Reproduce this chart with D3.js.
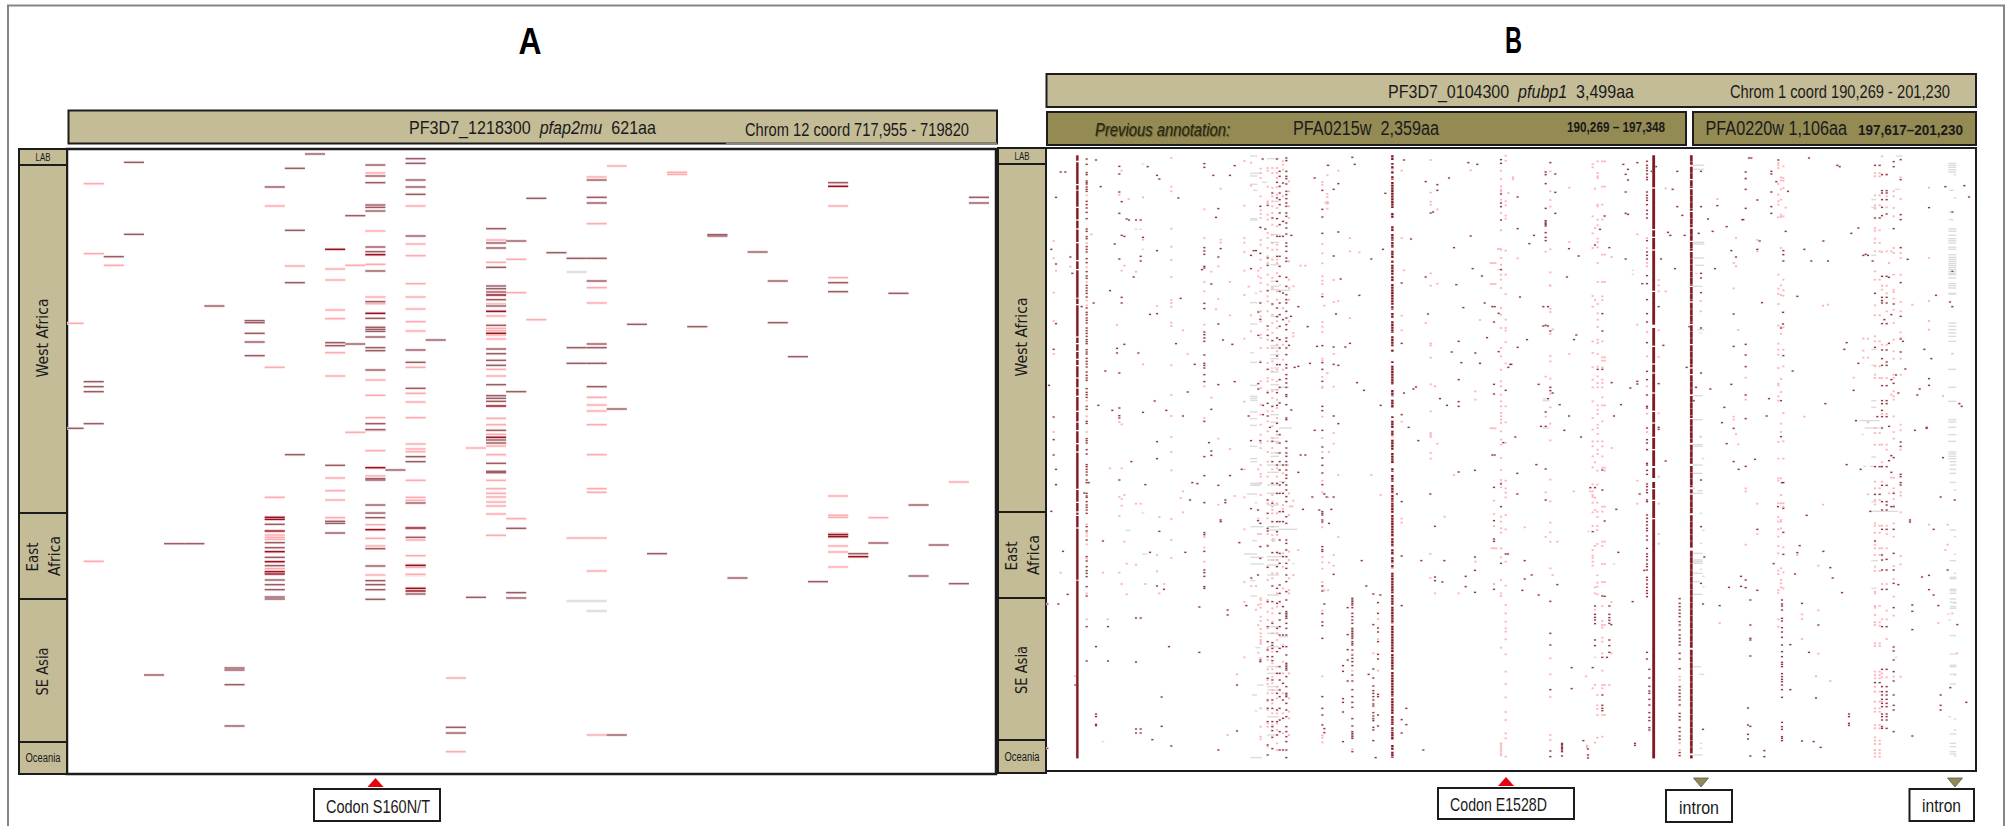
<!DOCTYPE html>
<html><head><meta charset="utf-8">
<script src="https://cdn.jsdelivr.net/npm/d3@7"></script>
<style>html,body{margin:0;background:#fff}svg{display:block}text{font-family:"Liberation Sans Narrow","Liberation Sans",sans-serif;fill:#1a1a1a;white-space:pre}</style>
</head><body><svg id="c" width="2006" height="826"></svg>
<script>
// ---- Panel A: each row is [codon column, sample rows...]
const aDarkTop=[[1,1145,1160,1175],[2,770],[3,487,703],[7,918],[9,962,968,1000,1026,1067],[10,561],[11,505,691,848],[12,462],[13,1028,1037],[14,647,1032],[15,495,528,548,615,622,633,741,755,813,905,955,982,988,994,1011,1043,1052,1110],[17,476,490,540,561,583,708,1050,1087,1165],[18,1020],[21,686,729,744,802,858,866,876,899,918,976,1047,1061,1081,1096,1154,1187,1195,1204],[22,723,1175],[23,595],[24,758],[25,775,1043,1090],[26,775,540,592,609,843,1032,1043,1090,1160],[27,1227],[28,973],[31,980],[32,704,708],[34,756],[35,843,968],[36,1070],[38,548,848,875],[41,880],[45,592,609]];
const aStrongTop=[[13,748],[15,764,940],[21,885,934,1000,1218],[38,559]];
const aPaleTop=[[0,970],[1,551,761],[2,796],[10,618,1102],[11,798],[13,807,840,930,956,1058,1128],[14,796],[15,519,693,793,891,911,1140,1186,1253],[17,618,732,767,851,891,927,965,993,1102,1180,1206,1253],[21,720,787,912,948,985,992,1005,1017,1108,1128,1255],[22,778,878],[23,959],[26,531,671,863,909,1192,1215,1233],[27,498],[30,517,523],[38,618,833]];
const aDarkBottom=[[0,25],[1,11],[4,765],[5,371],[6,371],[8,744,750,794,918],[10,313,368,383,412,437,458,480,494,509,531,537],[11,104],[13,136,304,310,339],[15,11,29,180,176,255,279,293,386,438,482,494,509,538],[16,150],[17,110,125,249,324,352,437,522],[19,922,939],[20,532],[21,31,60,69,130,154,158],[22,325,518,534],[27,945],[29,401],[33,474],[37,485],[38,341],[39,401],[40,369],[42,255,468],[43,375],[44,491]];
const aStrongBottom=[[10,292,298,333,395,425,455,462],[15,143,329],[17,324,436,505,513],[21,52],[38,344,350],[39,410]];
const aPaleBottom=[[1,424],[10,232,345,352,358,446],[13,174,212,240,293],[14,37],[15,31,92,168,314,355,378,465],[17,72,87,95,181,232,241,360,407,442,463],[19,774,995],[20,84],[21,14,43,78,104,181,206,220,231,246,258,282,346],[22,296],[25,354],[26,14,104,206,217,354,453,945],[38,228,286,292,378,396,441],[40,293],[44,186]];
const aGrayTop=[[25,816]], aGrayBottom=[[25,543],[26,543,573],[17,466]];

// ---- Panel B solid columns: [start,end] sample rows
const b91=[[22,38],[43,108],[112,125],[128,176],[180,214],[218,241],[245,282],[286,336],[340,363],[367,449],[452,468],[472,565],[569,585],[589,608],[612,632],[636,651],[655,688],[692,718],[722,743],[747,788],[792,820],[824,846],[850,885],[889,910],[914,1022],[1026,1061],[1065,1090],[1094,1100],[1104,1138],[1142,1295],[1298,1831]];
const b340=[[22,36],[45,50],[55,64],[70,78],[85,95],[102,180],[195,210],[235,250],[258,278],[282,300],[308,330],[338,345],[350,380],[385,400],[408,470],[475,485],[495,510],[520,555],[565,595],[605,612],[640,645],[653,710],[726,745],[755,780],[805,810],[818,840],[848,865],[875,905],[915,946],[961,971],[981,1001],[1011,1036],[1041,1061],[1064,1096],[1101,1166],[1171,1196],[1204,1221],[1228,1246],[1251,1261],[1274,1336],[1341,1370],[1376,1426],[1433,1514],[1518,1566],[1572,1646],[1651,1698],[1704,1731],[1738,1748],[1751,1776],[1791,1806],[1811,1829]];
const b428=[[22,118],[122,243],[247,266],[270,304],[308,428],[432,530],[540,593],[597,646],[650,673],[677,733],[737,788],[792,823],[827,866],[870,903],[907,954],[960,990],[1002,1020],[1024,1055],[1059,1110],[1114,1831]];
const b541=[[22,50],[56,93],[97,120],[124,188],[192,238],[242,278],[282,308],[312,413],[417,460],[464,528],[532,588],[592,658],[662,678],[682,740],[744,810],[814,884],[890,948],[954,1018],[1024,1036],[1040,1096],[1102,1200],[1208,1500],[1505,1817],[1822,1831]];

// ---- Panel B scattered calls, per picture tile: [column, rows...]
const t1d=[[119,33,49,74,80,99,104,108,117,124,130,160,170,180,193,212,243,250,266,272,296,304,312,332,344,371,384,391,412,420,428,436,447,480,493,500,510,517,525,540,548,556,565,575,581,587,605,612,618,631,640,648,657,672,682,690,697,722,733,740,748,775,784,820,826,872,878,885,905,918],[27,148,348,527],[20,604,807,875,921],[41,72],[55,72],[13,304],[70,327],[76,376],[6,712],[147,36],[161,116],[203,288],[189,428],[140,465],[104,476],[232,589,265],[175,669],[154,772],[196,787],[217,55,78,132,196,333,675,780,803,810],[224,161,262,448,465],[239,213],[246,216],[267,216],[281,216],[288,268],[281,325,339],[260,387],[302,56],[330,82,308,497,881,932],[337,93],[394,150],[309,499],[210,601,615],[274,615],[323,759],[288,793],[358,787],[408,804],[387,587],[401,451],[443,649],[422,732],[472,47,58,299,309,319,355,360,466,482,552,560,570,580,621,646,652,660,680,701],[465,365],[499,82],[549,82],[563,53,701],[514,182,327,528,710],[507,208],[521,302],[493,408,784,909,922],[528,576],[556,589],[472,820,926],[486,884],[647,33],[690,33,103,150,212,265,325,400,480,506,570,624,650,734,772,826,850],[676,135,210,468,578,775,880],[662,172,330,352,428,534,562,664,734,766,804],[640,175,238,316,465,514,643,878],[655,243],[612,322,362,878],[620,308],[627,308],[634,492,562,707,723],[648,772,800],[605,804],[669,838]];
const t1p=[[119,142,285,358,402,458,472,758,805,852],[20,279,331,434,519,618,852],[70,356],[27,368],[133,259],[224,68,368],[217,140,822],[224,829],[245,153],[288,148,275,649],[232,353],[267,371],[210,531],[330,474],[373,30,116,130,242,296,336,387,456,465,476,524,534,652,741,804,867,912],[408,547],[422,618],[521,122,275,284],[472,184,270,402,430,530,570,715,810],[514,355,453,872],[493,371,749],[549,402,502,903],[507,484],[592,39,173,270,284,312,368,441,572,761],[612,44,113,502,550],[605,416],[634,368,385],[641,62,75,90,145,174,187,198,210,240,276,290,335,360,390,405,430,490,505,520,560,570,600,640,700,720,770,800,830,860,885,900],[662,60,68,116,160,165,200,215,255,270,300,325,345,380,410,445,460,490,545,575,600,645,690,700,730,790,820,850,880,912],[676,60,75,120,145,160,175,195,230,260,285,305,335,390,420,470,500,525,555,600,640,670,695,730,750,790,835,870,900],[690,60,75,90,118,140,180,235,290,305,335,345,375,430,455,520,540,590,610,665,700,725,755,780,810,860,885,915]];
const t1g=[[609,631,24,84,109,212,216,464,528,643,712,745,751,757,792,812,832,895,932],[609,645,76],[618,632,127],[609,620,614],[660,696,32],[680,696,160],[284,292,48],[263,271,244],[277,285,244],[284,292,304],[623,631,436],[645,660,103],[670,696,260,283,350,400,415,425,505,593,600,620,632,660,672,710,725,800,823,870,880,915,925]];
const t2d=[[22,30,38,70,85,92,108,130,140,152,165,175,195,205,225,240,258,285,295,310,330,340,388,415,440,455,465,490,510,530,545,570,580,600,620,650,660,680,692,705,718,740,745,770,810,815,880,900,915,925],[2,70,85,115,135,155,170,195,230,265,325,355,385,430,465,500,535,575,600,650,695,718,765,860,885,915],[12,105,220,265,435,515],[37,262,786],[30,592],[36,505],[58,476,655],[86,536],[47,658],[93,646],[107,90,847],[114,595],[65,921],[79,921],[130,127,184,207,256,446,593,644,664,700,775,788,847,897,930],[147,52],[178,107,252,652,827],[164,124,324,597,649,804],[185,393],[241,442],[171,498],[213,586],[199,597],[234,704],[255,727],[305,772],[418,878],[389,838],[220,28],[227,49],[319,136],[277,333],[312,304],[375,36,735],[568,44],[595,49],[440,101,387],[510,90],[475,110,127],[396,273],[575,264],[525,299],[581,362],[609,384],[368,405,586,800],[532,410],[617,465],[553,479],[447,498],[645,522,709,738],[659,496,611],[624,569],[539,580,695,761,775],[518,612],[589,615],[547,644],[603,646],[411,717],[403,723],[483,752],[504,772],[666,35,46,138,165,176,216,365],[680,727],[673,884],[688,658],[694,649],[462,192],[455,195],[640,476],[647,476],[640,921],[647,921]];
const t2p=[[12,40,50,65,145,220,480,590,635,665],[30,100,130,175,210,340,395,420,455,520],[43,415,555,565],[65,353],[79,353],[130,102,110,288,316,346,385,398,408,438,522,536,552,632,638,687,716,720,806,870,912],[145,82,138,147,162,167,182,675],[178,68],[213,270,310,510],[241,313],[164,396,462,618,716,855,887],[178,459],[136,473],[150,912],[368,68,270,503,547,821],[455,36,134,161,170,376,413,586,592,629,709,790,855,861,867,915,932],[575,67],[375,367],[475,184,407,887],[440,525],[603,516],[468,715],[589,730,755],[666,68,93,115,125,130,155,195,247,305,330,350,380,395,420,480,500,540,600,625,665,700,715,740,760,775,795,805,815,825,850,875,890,930],[680,23,38,160,172,203,212,308,380,438,515,540,548,582,646,775,823,885],[688,135],[635,345],[642,345],[649,345],[635,408],[642,408],[649,408],[635,841],[642,841],[649,841],[657,303],[664,303],[140,164],[147,164]];
const t2g=[[0,38,840],[0,30,718],[5,35,427],[0,7,410],[140,155,52],[655,670,365]];
const t3d=[[408,40,52,60,68,78,88,95,132,142,150,157,170,187,198,210,278,312,322,333,383,407,455,497,522,584,670,695,741,775,780,840,875,885,905],[118,44,549,718,728],[104,72,80,107,181,218,222,226,230,234,254,268,278,532,792,835],[20,147,242,598],[133,78,133,196],[69,262],[55,287],[174,302,804],[203,324],[168,387],[27,447],[97,476,534],[111,476,534,752],[196,561],[189,575],[48,575],[83,709],[146,770],[90,835],[160,847],[210,867],[13,867],[125,735],[1,649],[337,49],[351,64,96,199],[344,79,132,196,333],[379,44],[422,70],[435,56],[499,70,176],[485,124],[570,70,176,376,390,434,540,675],[514,202],[591,213],[563,256],[647,236],[605,250],[471,253],[478,262],[521,262],[450,333],[492,362],[661,308,709],[675,327],[612,362],[394,407],[443,476,707,838,844],[457,592],[527,658],[555,718],[598,723],[358,720],[330,770],[309,804],[302,704],[295,299],[267,244],[281,204],[252,291],[274,497,549,664],[260,664],[668,498,595,841],[535,536],[640,778],[633,824],[647,887],[379,700,708],[548,758],[694,215],[619,173]];
const t3p=[[20,331],[118,70,130,156,176,304,373,413,482,492,558,624,640,692,737,778,827,877],[175,119,282,618],[104,311,686,806],[125,544],[379,259,530],[245,48,58],[260,40,75,85,90,170,175,215,232,272,282,298,345,402,618],[252,122,240,456],[245,205,256,300,444,476,580,615,658,695,718,760,810,845,880,895,925],[274,40,116,170,215,320,402,445,456,580,628,638,658,695,705,718,748,772,820,880,895,925],[281,40,116,205,320,402,628,638,772],[260,468,496,515,537,575,585,656,685,705,718,772,785,798,830,840,858,880,905,918],[302,327,900],[408,270,300,345,355,552,625,715,797,852,905],[443,396,412,430,547,627,796],[464,121,430],[619,153],[569,459,490,866],[668,345,421,806,815],[675,270,355,858],[682,546,889],[117,412],[6,88,94]];
const t3g=[[362,369,367,379],[545,580,283,288,330],[552,580,352],[552,560,376],[545,575,415,743,815,890,895],[560,580,545],[565,572,555],[540,580,52,64],[95,115,752,758,840],[572,580,932]];
const t4d=[[18,30],[25,30],[8,72,92,124,181,589,621,656,741,812],[1,215],[43,156,304],[85,70,78,132,176,196],[106,36],[100,101],[135,130],[50,279],[57,464],[128,250],[121,308,320,339,623],[163,445],[120,493,528],[114,540,758,866],[149,669],[78,752],[71,804],[36,934],[247,767],[198,30],[283,52],[290,56],[241,279],[184,304],[205,339],[255,339],[311,584],[304,604],[346,646,240],[332,727],[325,256],[361,322],[368,319],[375,322],[389,339],[339,818],[396,52,210,436,598],[410,52,210],[417,80,128,135,155,178,203,385,448,458,465,527,606,632,652,713,758,767,787,806,840],[431,80,128,135,155,198,385,448,465,527,606,642,652,713,758,767,806],[452,41,56,242,468,706],[473,35,95,200,215,299,404,505,612,882,895],[403,806],[438,388,586,835],[445,500,695,923],[424,515],[480,580],[487,663],[459,681],[466,735],[494,334],[558,179,692,712],[579,442],[621,462],[628,476,192,370],[607,116],[664,113],[678,147],[544,604],[565,632],[530,723],[523,741],[649,767],[656,775],[516,847],[551,838,841],[452,929],[600,929],[473,573]];
const t4p=[[106,45,52,60,108,140,160,170,208,380,422,438,468,533,587,605,620,660,707,712,745,758,882,932],[114,88,97,124,155,200,207,300,412,441,538,557,693,732,827,852],[121,55,90,98,120,205,395,427,443,492,538,605,655,795,880,932],[128,179],[43,276,310],[8,90,689,755],[184,806],[240,473],[255,470],[332,689],[361,572,608,629],[375,572,629,823],[396,75,85,142,172,182,240,248,272,285,310,370,395,472,502,565,580,655,680,690,840,855,890],[410,75,85,142,172,247,285,310,395,502,580,655,690,855,890],[417,25,312,413,425,458,590,690,798,890],[431,78,145,178,310,413,436,490,590,652,690,798,890,905],[452,130,145,180,205,300,315,380,425,432,452,485,525,575,610,632,680,690,730,745,755,805,852,872],[473,88,153,315,330,380,462,490,553,570,632,680,830,847,905],[438,345],[445,310,740],[508,470],[558,119,330,459,519,545],[600,744],[628,617]];
const t4g=[[385,400,155,178,322,604,652,758,778,927],[350,410,818],[365,410,840],[355,362,860],[458,478,24],[455,470,124],[616,640,46,52,58,65,72,243,250,262,272,278,285,298,304,320,328,334,340,346,352,358,364,370,376,380,390,407,413,420,436,438,525,535,545,555,565,580,664,718,760,815,822,838,860,880,912,918,925,932],[618,632,127,215,192],[632,640,80,150]];
const t5d=[[119,14,20,28,36,45,60,68,100,108,112,125,135,142,150,160,200,213,240,290,303,320,332,340,350,380,408,500,603],[27,28,74],[13,154],[48,274],[62,403],[34,432],[1,432,865],[112,99],[125,68],[168,243],[217,60],[253,5],[295,74],[337,214],[309,277],[330,378],[351,388],[415,277],[436,68],[451,71],[472,47,128,218,224,274,330,338,349,380,385],[514,76,870],[549,47],[584,28],[535,120,128],[521,180,185],[577,248],[429,120],[612,146],[633,150,182,345],[640,190,260,295,600,605],[613,354],[183,500,603],[147,560,762,770,793,797],[267,474,606,807,819],[281,474,807,819],[366,560],[457,441,577],[542,450,465],[598,437],[344,711,799],[316,839],[373,858],[570,813,675],[85,675],[676,5,70,130,185,278,378,425,490,548,556,565,590,602,660,720,745,785,800,812,832,866],[662,120,160,205,213,258,322,425,500,545,570,590,655,720,745,785,855,885],[690,15,70,100,185,215,278,320,385,430,505,575,640,700,750,785,825]];
const t5p=[[119,193,220,228,253,296,400,478],[189,25],[182,478],[224,25,117,137,372],[373,31,177,240,294],[408,94,157],[401,114],[217,111,168,338],[232,105,245],[267,131,314],[281,131],[239,311,403],[168,338],[295,372],[337,171,400],[352,372],[330,285,334],[41,338],[84,649],[472,231,263,305],[563,108],[514,134],[592,28,112,208,366,426,592],[570,643],[542,825],[634,28,176,222,435,495,578],[641,15,42,50,70,105,222,415,420,432,443,470,483,507,520,530,540,546,552,595,745,800,830,838],[662,5,50,130,175,222,255,320,360,420,455,480,505,565,600,628,660,672,700,723,750,790,800,860],[676,28,105,125,140,150,160,200,225,240,300,340,355,445,460,485,520,575,610,628,650,670,690,700,730,760,795],[690,25,50,130,160,225,275,300,340,400,440,520,540,620,680,715,760,790,810,850,870],[613,378],[627,378,449]];
const t5g=[[610,630,5,408],[610,640,72,76],[600,630,102],[610,645,70],[623,631,128,753],[610,650,200,292,312],[236,250,211],[284,292,159],[285,300,282],[615,630,242,705],[675,685,236,240,244],[590,630,282],[610,625,362],[625,640,563],[630,650,675],[164,172,845],[610,645,893],[660,696,15,37,75,100,135,200,210,290,300,315,345,405,500,520,560,620,640,680,690,770,825]];
const t6d=[[22,5,15,30,45,55,75,90,110,125,170,190,240,250,270,290,310,325,345,365,395,420,455,460,465,470,475,490,505,525,560,585,610,615,620,625,630,650,680,700,705,710,730,750,770,800,815,830,845,870,893],[2,5,30,75,100,155,185,240,280,310,375,400,425,460,480,500,525,565,620,640,660,690,710,745,780,815,870],[12,15,68,100,155,185,290,440,525,560,670,720,775,870],[58,37],[72,148],[100,111],[121,150],[130,16,39,74,155,160,165,180,186,260,269,274,378,393,461,486,497,535,710,745,765,795],[136,102,432,806,818],[143,111],[157,148],[164,111,343],[150,190],[248,302],[262,378],[283,402,494,627,654,678,692,700,710,720,732,738,758,768,776,782,802,810,842],[304,405],[297,428,460,504,516,545,583,597,703,710,765,798],[290,893],[269,643],[206,443,524,569,600,663],[192,617,634,716,727,756,845],[220,415,420,425,430,435,443,460,470,480,490,505,510,515,520,525,530,535,545,550,555,570,585,595,605,617,645,663,689,710,727,742,776,798,815,820,825,830,835,875],[354,102],[368,125,288,437,779,819],[382,745,794],[433,870],[454,102],[427,302],[496,302],[468,199,351,362],[490,366],[560,349,380],[588,31,291,331,397],[539,36],[645,82,182,237,244,388],[666,72,140,310],[680,282],[687,282]];
const t6p=[[12,40,135,148,280,320,385,555,605,640,700,760,820],[30,100,165,275,300,355,390,400,640,715,755,775,825],[43,122,345],[33,139],[40,139],[58,270],[130,62,97,202,291,307,326,366,392,452,649,765,826,833,847],[147,112,391],[164,285,317],[150,308],[178,45,231],[136,391],[277,45],[305,105],[497,170],[525,45],[368,176,188],[454,282,354],[468,400],[539,400],[589,305],[645,122,162,198,372],[638,265],[645,265],[652,265],[666,30,60,68,82,170,185,205,218,265,292,360,400,408,563,850,856,862,868,874,880,886],[680,62,85,98,112,165,208,305,377,435,460,485,505,515,538,583,635,672,712,756,780,820,835,890],[297,477,537,632],[283,580],[220,632,868]];
const t6g=[[0,55,208],[0,30,15],[0,20,65],[40,47,311],[0,28,530],[0,12,290]];
const t7d=[[408,10,15,31,43,72,80,90,98,120,125,165,175,185,195,205,212,228,240,265,282,290,300,312,320,330,352,360,372,382,392,400,410,577,597],[415,628,654,679,693,700,718,735,758,772,782,803,810],[506,416,430,440,450,460,470,485,495,510,525,535,545,555,580,597,626,680,690,700,710,720,735,760,770,780,803,815,828,838,878,887],[19,40,102],[76,14],[104,27,120],[153,850,854,858,862,866,870,875,888],[231,867,885,894],[217,842],[386,102],[400,331],[365,425],[322,277],[316,148],[281,183],[245,215,623],[238,83],[252,83,438,463,472,480,491,540,557],[274,30,90,408,592,705,736,745,752],[281,409],[295,438,463,473,481,490,540,557,577],[301,494],[288,592],[182,623,686],[118,424,520,555,689,873,890],[580,291],[570,60,200,370],[576,432,808],[626,437],[654,382],[690,349,379],[668,5],[683,28],[464,3],[41,302,357],[62,345],[34,391],[83,405],[139,374],[372,850,856]];
const t7p=[[118,59,124,188,217,245,325,595,643,711,825,840],[104,97,231],[41,202],[139,245],[125,345],[188,94],[245,22,73,94,105,111,128,157,198,270,287,294,305,317,685],[252,7,83,113,150,258,382,400,449,675,848],[238,94],[259,32,74,128,155,171,198,210,252,346,368,380,403,705,736,747,765,833],[274,23,140,155,245,258,312,366,438,483,495,503,533,545,580,632,675,685,765,830],[281,23,32,140,245,312,366,495,675,765],[295,675],[379,62,131],[443,50,131,222,251],[626,489],[301,426,580],[225,649],[228,857,860,863],[506,650,660,850,870]];
const t7g=[[228,236,214],[248,256,592],[305,313,312],[545,575,15,40,100,305,340,403],[545,552,85],[560,575,92],[566,574,160,250,328,850,865],[573,581,211,349,380],[540,575,280],[545,565,365],[545,570,620],[565,580,643],[548,575,885],[545,575,300,310]];
const t8d=[[117,68,420,432,438,450,475,483,503,516,532,555,575,590,607,613,620,641,650,658,665,675,689,712,787,800,808,830,835,842],[8,19,360,383],[22,420,495,535,540,588,799,888],[15,744,795,823,837],[43,208,391],[121,68,145,283],[105,140],[121,217],[170,257],[163,278],[92,311],[156,342],[241,274],[191,166],[262,323],[269,354],[297,398],[177,430,843],[142,554,689],[226,495],[198,577],[219,714],[212,845],[233,862],[64,872,890],[318,762,770,790,796],[353,28],[311,14],[438,2],[445,37,140],[473,43,50,68,75],[396,20,103,243,668],[410,20,103,668],[417,20,76,125,150,208,285,300,330,388,500,628,680,695,705,718,730,740,762,770,780,800,805],[431,20,76,125,135,150,208,298,330,388,500,628,680,695,705,718,730,740,762,770,780,805],[452,100,140,208,280,330,370,443,561,573,600,635,663,705,736,750,815],[382,154],[466,374],[508,435,454,509,828],[501,180,186],[558,389],[593,111,705,736,750],[572,208,405],[537,351],[558,346],[586,437],[614,330],[635,120],[622,683],[643,494],[670,727]];
const t8p=[[106,55,62,130,171,185,208,230,258,280,332,342,390,398,478,500],[114,55,105,130,180,185,205,325,360,370,382],[121,130,140,262,337,385],[8,85,94,254],[43,131,222],[240,134],[163,285],[226,317,451,581],[177,463,477,537],[219,649],[262,663],[396,65,85,120,133,190,197,218,254,265,285,320,333,395,400,438,443,465,487,495,550,558,635,645,655,680,695,725,745,755,795,805,832,842,852,870,880,890],[410,85,120,197,218,265,285,333,438,487,497,550,558,635,645,655,695,725,745,755,795,805,842,852,870,880,890],[417,7,65,197,265,372,478,640,652,725],[431,197,222,265,372,452,478,537,652],[375,103],[452,53,85,97,117,137,190,230,318,357,410,467,650],[473,97,107,157,288,313,650],[438,100],[445,53],[586,489],[558,194],[614,194,254],[607,270],[642,580],[628,460]];
const t8g=[[362,370,19],[380,400,19],[385,400,125,385],[385,465,154],[385,405,302],[620,640,5,15,28,40,67,210,302,352,356,388,392,400,417,427,440,445,527,582,616,620,643,672,822,850,860,875,882],[632,640,90,230,283,430,340,645,777,810,888],[612,620,462],[616,624,480,770],[455,463,592]];

const tiles=[[t1d,t1p,t1g],[t2d,t2p,t2g],[t3d,t3p,t3g],[t4d,t4p,t4g],[t5d,t5p,t5g],[t6d,t6p,t6g],[t7d,t7p,t7g],[t8d,t8p,t8g]];
const regionsA=[["LAB",149,165],["West Africa",165,513],["East|Africa",513,599],["SE Asia",599,742],["Oceania",742,774]];
const regionsB=[["LAB",148,164],["West Africa",164,512],["East|Africa",512,598],["SE Asia",598,740],["Oceania",740,773]];

const svg=d3.select("#c");
const TAN="#c4bc96",OLIVE="#948a54",LINE="#1c1c1c";
const box=(x0,y0,x1,y1,fill,sw=2,st=LINE)=>svg.append("rect").attr("x",x0).attr("y",y0).attr("width",x1-x0).attr("height",y1-y0).attr("fill",fill).attr("stroke",st).attr("stroke-width",sw);
function txt(x0,x1,y,s,size,o={}){const t=svg.append("text").attr("x",x0).attr("y",y).attr("font-size",size).attr("dominant-baseline","central").attr("textLength",x1-x0).attr("lengthAdjust","spacingAndGlyphs");
 if(Array.isArray(s))s.forEach(([p,it])=>t.append("tspan").attr("font-style",it?"italic":"normal").text(p));else t.text(s);
 if(o.italic)t.attr("font-style","italic");if(o.bold)t.attr("font-weight","bold");if(o.fill)t.style("fill",o.fill);if(o.shadow)t.style("text-shadow",o.shadow);return t;}
function vtxt(cx,cy,len,s,size){svg.append("text").attr("transform",`translate(${cx},${cy}) rotate(-90)`).attr("text-anchor","middle").attr("dominant-baseline","central").attr("font-size",size).attr("textLength",len).attr("lengthAdjust","spacingAndGlyphs").style("font-family",'"DejaVu Sans"').text(s);}

// outer frame
svg.append("rect").attr("x",8).attr("y",5.5).attr("width",1996).attr("height",900).attr("fill","#fff").attr("stroke","#858585").attr("stroke-width",2);
// titles
txt(518.5,541.5,41,"A",36,{bold:1,fill:"#000"});
txt(1505,1522,40,"B",36,{bold:1,fill:"#000"});

// headers
box(68.5,110.5,997,143.5,TAN);
svg.append("line").attr("x1",726).attr("x2",997).attr("y1",143.5).attr("y2",143.5).attr("stroke","#8a8a7a").attr("stroke-width",2);
txt(409,656,127,[["PF3D7_1218300  "],["pfap2mu",1],["  621aa"]],19);
txt(745,969,129,"Chrom 12 coord 717,955 - 719820",19);
box(1046.5,74,1976,107,TAN);
txt(1388,1634,91,[["PF3D7_0104300  "],["pfubp1",1],["  3,499aa"]],19);
txt(1730,1950,91,"Chrom 1 coord 190,269 - 201,230",19);
box(1047,112,1686,145,OLIVE);box(1693,112,1976,145,OLIVE);
txt(1095,1230,130,"Previous annotation:",18,{italic:1,fill:"#26260f",shadow:"1px 1px 1px #5c5732"});
txt(1293,1439,128,"PFA0215w  2,359aa",20);
txt(1567,1665,127,"190,269 – 197,348",14,{bold:1});
txt(1705.5,1847,128,"PFA0220w 1,106aa",20);
txt(1858,1963,129,"197,617–201,230",15,{bold:1});

// plots
box(67,149,996,774,"#fff",2.5);box(1046,148,1976,771,"#fff",2);
svg.append("defs").append("clipPath").attr("id","clipA").append("rect").attr("x",67).attr("y",149).attr("width",929).attr("height",625);

// region strips
function strip(regs,x0,x1,cx){regs.forEach(([n,a,b])=>{box(x0,a,x1,b,TAN,2);const m=(a+b)/2;
 if(n==="LAB")txt(cx-7.5,cx+7.5,m,n,10);
 else if(n==="Oceania")txt(cx-17.5,cx+17.5,m,n,12);
 else if(n.includes("|")){const[p,q]=n.split("|");vtxt(cx-10.5,m+1,29,p,15);vtxt(cx+11.5,m,40,q,15);}
 else vtxt(cx,m+(n==="SE Asia"?1:-1),n==="SE Asia"?48:79,n,15);});}
strip(regionsA,19,67,43);strip(regionsB,998,1046,1022);

// ---- Panel A marks
const xA=d3.scaleBand().domain(d3.range(46)).range([63.5,989]);
const yA=d3.scaleLinear().domain([0,2478]).range([0,826]);
const gA=svg.append("g").attr("clip-path","url(#clipA)");
const flatA=(rows,off)=>rows.flatMap(([c,...ys])=>ys.map(y=>({c,y:y+off})));
function barsA(rows,core,halo){
 gA.append("g").selectAll("rect").data(rows).join("rect").attr("x",d=>xA(d.c)).attr("y",d=>yA(d.y)-1.5).attr("width",xA.bandwidth()).attr("height",3).attr("fill",halo);
 gA.append("g").selectAll("rect").data(rows).join("rect").attr("x",d=>xA(d.c)).attr("y",d=>yA(d.y)-.65).attr("width",xA.bandwidth()).attr("height",1.3).attr("fill",core);}
barsA([...flatA(aGrayTop,0),...flatA(aGrayBottom,1260)],"#d8d8d8","#efefef");
barsA([...flatA(aPaleTop,0),...flatA(aPaleBottom,1260)],"#ffa9ae","#ffe6e8");
barsA([...flatA(aDarkTop,0),...flatA(aDarkBottom,1260)],"#9c5a62","#eadadc");
barsA([...flatA(aStrongTop,0),...flatA(aStrongBottom,1260)],"#8f1520","#f0b8bd");

// ---- Panel B marks
const xB=d3.scaleLinear().domain([0,2784]).range([1047,1975]);
const yB=d3.scaleLinear().domain([0,1872]).range([148,772]);
const gB=svg.append("g");
const gg=[],pp=[],dd=[];
tiles.forEach(([d,p,g],i)=>{const ox=(i%4)*696,oy=Math.floor(i/4)*936;
 g.forEach(([a,b,...ys])=>ys.forEach(y=>gg.push({a:a+ox,b:b+ox,y:y+oy})));
 p.forEach(([x,...ys])=>ys.forEach(y=>pp.push({x:x+ox,y:y+oy})));
 d.forEach(([x,...ys])=>ys.forEach(y=>dd.push({x:x+ox,y:y+oy})));});
gB.append("g").selectAll("rect").data(gg).join("rect").attr("x",d=>xB(d.a)).attr("width",d=>xB(d.b)-xB(d.a)).attr("y",d=>yB(d.y)-.7).attr("height",1.4).attr("fill","#dcdcdc");
gB.append("g").selectAll("rect").data(pp).join("rect").attr("x",d=>xB(d.x)-1.1).attr("width",2.2).attr("y",d=>yB(d.y)-.9).attr("height",1.8).attr("fill","#ffb4b9");
gB.append("g").selectAll("rect").data(dd).join("rect").attr("x",d=>xB(d.x)-1.4).attr("width",2.8).attr("y",d=>yB(d.y)-1.2).attr("height",2.4).attr("fill","#eed9db");
gB.append("g").selectAll("rect").data(dd).join("rect").attr("x",d=>xB(d.x)-1).attr("width",2).attr("y",d=>yB(d.y)-.55).attr("height",1.1).attr("fill","#7f2630");
function column(segs,u,w,dash){const g=gB.append("g");
 g.selectAll("rect").data(segs).join("rect").attr("x",xB(u)-w/2-.4).attr("width",w+.8).attr("y",d=>yB(d[0])).attr("height",d=>yB(d[1])-yB(d[0])).attr("fill","#e8b9bd");
 g.selectAll("line").data(segs).join("line").attr("x1",xB(u)).attr("x2",xB(u)).attr("y1",d=>yB(d[0])).attr("y2",d=>yB(d[1])).attr("stroke","#7a1a22").attr("stroke-width",w).attr("stroke-dasharray",dash||null);}
column(b91,91,2.2);column(b340,696+340,2.2,"2 .7");column(b428,1392+428,2.6);column(b541,1392+541,2.4,"6 .5");

// ---- Callouts
const tri=(cx,y0,y1,w,fill,down)=>svg.append("path").attr("d",down?`M${cx-w/2},${y0}H${cx+w/2}L${cx},${y1}Z`:`M${cx-w/2},${y1}H${cx+w/2}L${cx},${y0}Z`).attr("fill",fill).attr("stroke",down?"#555":"none").attr("stroke-width",down?.8:0);
tri(375.5,778,787,16,"#e8000d");tri(1506,777,786,16,"#e8000d");tri(1701,778,787,15,OLIVE,1);tri(1955,778,787,15,OLIVE,1);
[[314,789,440,821,"Codon S160N/T",326,430,806],[1438,788,1574,819,"Codon E1528D",1450,1547,804],[1666,790,1732,822,"intron",1679,1719,807],[1909.5,789,1974,821,"intron",1922,1961,805]].forEach(([a,b,c,d,s,t0,t1,ty])=>{box(a,b,c,d,"#fff",2);txt(t0,t1,ty,s,19);});
</script></body></html>
